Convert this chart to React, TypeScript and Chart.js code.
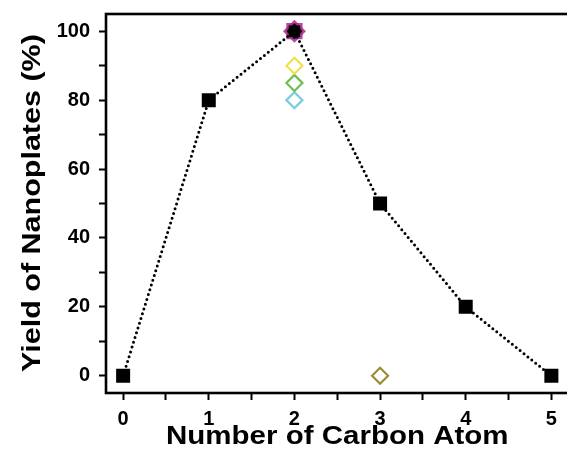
import React, { useEffect, useRef } from "react";
import { Chart, registerables } from "chart.js";

Chart.register(...registerables);

// ---- data ----
const carbonAtoms = [0, 1, 2, 3, 4, 5];
const yieldValues = [0, 80, 100, 50, 20, 0];

const starX = [2];
const starY = [100];

const yellowX = [2];
const yellowY = [90];
const greenX = [2];
const greenY = [85];
const cyanX = [2];
const cyanY = [80];
const oliveX = [3];
const oliveY = [0];

const xTickValues = [0, 0.5, 1, 1.5, 2, 2.5, 3, 3.5, 4, 4.5, 5];
const xTickLabels = ["0", "", "1", "", "2", "", "3", "", "4", "", "5"];
const yTickValues = [0, 10, 20, 30, 40, 50, 60, 70, 80, 90, 100];
const yTickLabels = ["0", "", "20", "", "40", "", "60", "", "80", "", "100"];

const pts = (xs: number[], ys: number[]) => xs.map((x, i) => ({ x, y: ys[i] }));

const FONT = "'Liberation Sans', Arial, Helvetica, sans-serif";
const X_TITLE_STRETCH = 1.18;
const Y_TITLE_STRETCH = 1.22;

const framePlugin = {
  id: "frame",
  afterLayout(chart: any) {
    Object.values(chart.scales).forEach((scale: any) => {
      if (scale.__patched) return;
      scale.__patched = true;
      const orig = scale.drawTitle;
      scale.drawTitle = function (...args: any[]) {
        const ctx = this.ctx;
        ctx.save();
        if (this.isHorizontal()) {
          const cx = (this.left + this.right) / 2;
          ctx.translate(cx, 0);
          ctx.scale(X_TITLE_STRETCH, 1);
          ctx.translate(-cx, 0);
        } else {
          const cy = (this.top + this.bottom) / 2 + 2;
          ctx.translate(0, cy);
          ctx.scale(1, Y_TITLE_STRETCH);
          ctx.translate(0, -cy);
        }
        orig.apply(this, args);
        ctx.restore();
      };
    });
  },
  afterDraw(chart: any) {
    const { ctx, chartArea } = chart;
    ctx.save();
    ctx.strokeStyle = "#000";
    ctx.lineWidth = 2.6;
    ctx.strokeRect(chartArea.left, chartArea.top, chartArea.right - chartArea.left, chartArea.bottom - chartArea.top);
    ctx.restore();
  },
};

export default function App() {
  const ref = useRef<HTMLCanvasElement | null>(null);

  useEffect(() => {
    if (!ref.current) return;
    const chart = new Chart(ref.current, {
      type: "scatter",
      data: {
        datasets: [
          {
            label: "star-black",
            data: pts(starX, starY),
            pointStyle: "rectRot",
            pointRadius: 8,
            backgroundColor: "#000",
            borderColor: "#000",
            borderWidth: 0,
            order: 0,
          } as any,
          {
            label: "yield",
            data: pts(carbonAtoms, yieldValues),
            showLine: true,
            borderColor: "#000",
            borderWidth: 3,
            borderDash: [0, 5],
            borderCapStyle: "round",
            pointStyle: "rect",
            pointRadius: (c: any) => (c.dataIndex === 2 ? 8 : 9.9),
            backgroundColor: "#000",
            pointBorderWidth: 0,
            order: 1,
          } as any,
          {
            label: "star-magenta-a",
            data: pts(starX, starY),
            pointStyle: "rectRot",
            pointRadius: 11.5,
            backgroundColor: "rgba(170,40,140,0.85)",
            borderWidth: 0,
            order: 2,
          } as any,
          {
            label: "star-magenta-b",
            data: pts(starX, starY),
            pointStyle: "rect",
            pointRadius: 11.5,
            backgroundColor: "rgba(170,40,140,0.85)",
            borderWidth: 0,
            order: 3,
          } as any,
          {
            label: "yellow",
            data: pts(yellowX, yellowY),
            pointStyle: "rectRot",
            pointRadius: 8,
            backgroundColor: "rgba(255,255,255,0)",
            borderColor: "#f0e04c",
            pointBorderWidth: 2.2,
            order: 4,
          } as any,
          {
            label: "green",
            data: pts(greenX, greenY),
            pointStyle: "rectRot",
            pointRadius: 8,
            backgroundColor: "rgba(255,255,255,0)",
            borderColor: "#6cbf4c",
            pointBorderWidth: 2.2,
            order: 5,
          } as any,
          {
            label: "cyan",
            data: pts(cyanX, cyanY),
            pointStyle: "rectRot",
            pointRadius: 8,
            backgroundColor: "rgba(255,255,255,0)",
            borderColor: "#7ccde2",
            pointBorderWidth: 2.2,
            order: 6,
          } as any,
          {
            label: "olive",
            data: pts(oliveX, oliveY),
            pointStyle: "rectRot",
            pointRadius: 8,
            backgroundColor: "rgba(255,255,255,0)",
            borderColor: "#9a8e30",
            pointBorderWidth: 2.2,
            order: 7,
          } as any,
        ],
      },
      options: {
        animation: false,
        responsive: false,
        devicePixelRatio: 1,
        layout: { padding: { top: 14, right: 5, left: 0, bottom: 0 } },
        plugins: { legend: { display: false }, tooltip: { enabled: false } },
        scales: {
          x: {
            type: "linear",
            min: -0.2,
            max: 5.2,
            afterBuildTicks: (axis: any) => {
              axis.ticks = xTickValues.map((v) => ({ value: v }));
            },
            afterFit: (axis: any) => {
              axis.height = 61;
              axis.paddingLeft = 0;
              axis.paddingRight = 0;
            },
            border: { display: false },
            grid: {
              drawOnChartArea: false,
              drawTicks: true,
              tickLength: 7,
              tickColor: "#000",
              tickWidth: 2,
            },
            ticks: {
              color: "#000",
              padding: 7,
              maxRotation: 0,
              autoSkip: false,
              font: { family: FONT, size: 20, weight: "bold" },
              callback: (v: any) => {
                const i = xTickValues.indexOf(Number(v));
                return i >= 0 ? xTickLabels[i] : "";
              },
            },
            title: {
              display: true,
              text: "Number of Carbon Atom",
              color: "#000",
              padding: { top: 0, bottom: 2 },
              font: { family: FONT, size: 25, weight: "bold", lineHeight: 1.2 },
            },
          },
          y: {
            type: "linear",
            min: -5,
            max: 105,
            afterBuildTicks: (axis: any) => {
              axis.ticks = yTickValues.map((v) => ({ value: v }));
            },
            afterFit: (axis: any) => {
              axis.width = 106;
              axis.paddingTop = 0;
              axis.paddingBottom = 0;
            },
            border: { display: false },
            grid: {
              drawOnChartArea: false,
              drawTicks: true,
              tickLength: 7,
              tickColor: "#000",
              tickWidth: 2,
            },
            ticks: {
              color: "#000",
              padding: 9,
              autoSkip: false,
              font: { family: FONT, size: 20, weight: "bold" },
              callback: (v: any) => {
                const i = yTickValues.indexOf(Number(v));
                return i >= 0 ? yTickLabels[i] : "";
              },
            },
            title: {
              display: true,
              text: "Yield of Nanoplates (%)",
              color: "#000",
              padding: { top: 18, bottom: 0 },
              font: { family: FONT, size: 25, weight: "bold", lineHeight: 1.2 },
            },
          },
        },
      } as any,
      plugins: [framePlugin],
    });
    return () => chart.destroy();
  }, []);

  return (
    <div
      style={{
        position: "fixed",
        left: 0,
        top: 0,
        width: 567,
        height: 454,
        overflow: "hidden",
        background: "#fff",
      }}
    >
      <canvas ref={ref} width={580} height={454} style={{ display: "block", width: 580, height: 454 }} />
    </div>
  );
}
